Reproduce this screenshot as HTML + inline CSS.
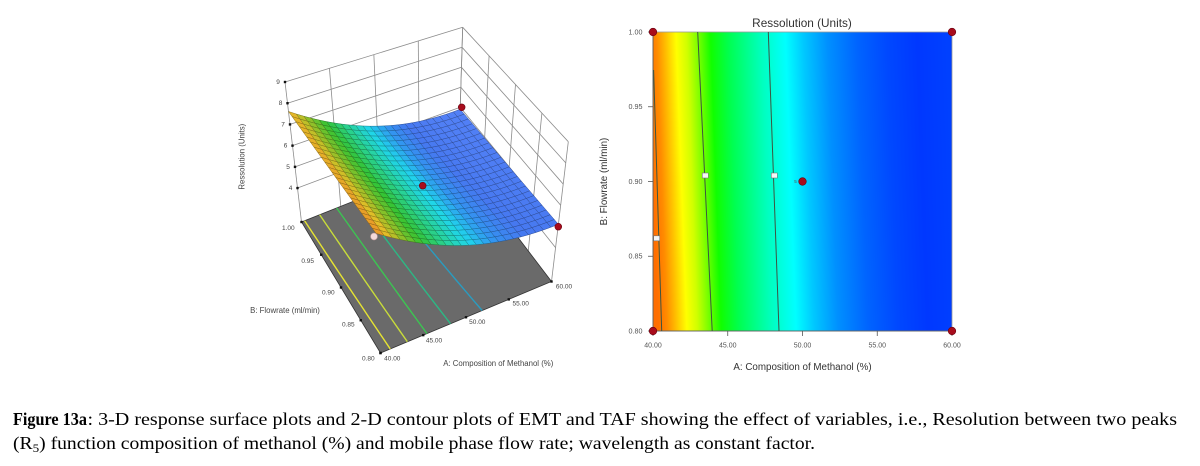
<!DOCTYPE html>
<html><head><meta charset="utf-8">
<style>
html,body{margin:0;padding:0;background:#fff;}
svg{display:block;}
</style></head>
<body>
<svg id="s" width="1200" height="466" viewBox="0 0 1200 466" xmlns="http://www.w3.org/2000/svg" font-family="'Liberation Sans', Arial, sans-serif">
<defs>
<linearGradient id="cg" gradientUnits="userSpaceOnUse" x1="653" y1="181.5" x2="952" y2="170.5">
 <stop offset="0" stop-color="#ff6e00"/>
 <stop offset="0.03" stop-color="#ff8c00"/>
 <stop offset="0.06" stop-color="#ffc000"/>
 <stop offset="0.095" stop-color="#ffff00"/>
 <stop offset="0.13" stop-color="#d0ff00"/>
 <stop offset="0.165" stop-color="#80ff00"/>
 <stop offset="0.21" stop-color="#10ff00"/>
 <stop offset="0.27" stop-color="#00ff50"/>
 <stop offset="0.38" stop-color="#00ffc0"/>
 <stop offset="0.46" stop-color="#00ffff"/>
 <stop offset="0.52" stop-color="#00c8ff"/>
 <stop offset="0.60" stop-color="#0090ff"/>
 <stop offset="0.70" stop-color="#0064ff"/>
 <stop offset="0.80" stop-color="#0048ff"/>
 <stop offset="0.90" stop-color="#0038ff"/>
 <stop offset="1" stop-color="#0040ff"/>
</linearGradient>
</defs>
<rect width="1200" height="466" fill="#fff"/>

<!-- 3D plot (generated geometry) -->
<g id="g3d"></g>

<!-- 3D labels -->
<g fill="#444" font-size="6.5" text-anchor="middle">
 <text x="278" y="84">9</text>
 <text x="280.5" y="105.2">8</text>
 <text x="283" y="126.4">7</text>
 <text x="285.5" y="147.7">6</text>
 <text x="288" y="168.8">5</text>
 <text x="290.5" y="190.1">4</text>
 <text x="288.3" y="230">1.00</text>
 <text x="307.7" y="263">0.95</text>
 <text x="328.3" y="294.6">0.90</text>
 <text x="348.3" y="326.6">0.85</text>
 <text x="368.3" y="360.6">0.80</text>
 <text x="392.3" y="360.6">40.00</text>
 <text x="434" y="342.3">45.00</text>
 <text x="477.3" y="324">50.00</text>
 <text x="520.7" y="305.6">55.00</text>
 <text x="564" y="288.3">60.00</text>
</g>
<g fill="#444" font-size="7.8" text-anchor="middle">
 <text x="285" y="312.8">B: Flowrate (ml/min)</text>
 <text x="498.3" y="366">A: Composition of Methanol (%)</text>
 <text transform="translate(244.5,156.7) rotate(-90)" x="0" y="0">Ressolution (Units)</text>
</g>

<!-- 2D contour plot -->
<rect x="653" y="32" width="299" height="299" fill="url(#cg)"/>
<rect x="653" y="32" width="299" height="299" fill="none" stroke="#9a9a9a" stroke-width="0.8"/>
<line x1="653" y1="32" x2="653" y2="331" stroke="#555" stroke-width="0.8"/>
<line x1="653" y1="331" x2="952" y2="331" stroke="#555" stroke-width="0.8"/>
<g stroke="#3d5540" stroke-width="1" fill="none">
 <line x1="653.6" y1="70" x2="661.7" y2="331"/>
 <line x1="697.7" y1="32" x2="712.2" y2="331"/>
 <line x1="768.3" y1="32" x2="779" y2="331"/>
</g>
<g fill="#f6f6f6" stroke="#777" stroke-width="0.6">
 <rect x="653.7" y="235.8" width="6" height="5"/>
 <rect x="702.3" y="173" width="6" height="5"/>
 <rect x="771.3" y="173" width="6" height="5"/>
</g>
<g stroke="#555" stroke-width="0.8">
 <line x1="648" y1="32" x2="653" y2="32"/>
 <line x1="648" y1="106.75" x2="653" y2="106.75"/>
 <line x1="648" y1="181.5" x2="653" y2="181.5"/>
 <line x1="648" y1="256.25" x2="653" y2="256.25"/>
 <line x1="648" y1="331" x2="653" y2="331"/>
 <line x1="653" y1="331" x2="653" y2="336"/>
 <line x1="727.75" y1="331" x2="727.75" y2="336"/>
 <line x1="802.5" y1="331" x2="802.5" y2="336"/>
 <line x1="877.25" y1="331" x2="877.25" y2="336"/>
 <line x1="952" y1="331" x2="952" y2="336"/>
</g>
<g fill="#555" font-size="7.2" text-anchor="end">
 <text x="642.5" y="34.5">1.00</text>
 <text x="642.5" y="109.2">0.95</text>
 <text x="642.5" y="184">0.90</text>
 <text x="642.5" y="258.7">0.85</text>
 <text x="642.5" y="333.5">0.80</text>
</g>
<g fill="#555" font-size="7" text-anchor="middle">
 <text x="653" y="347.5">40.00</text>
 <text x="727.75" y="347.5">45.00</text>
 <text x="802.5" y="347.5">50.00</text>
 <text x="877.25" y="347.5">55.00</text>
 <text x="952" y="347.5">60.00</text>
</g>
<g fill="#a80c1c" stroke="#6a0010" stroke-width="0.6">
 <circle cx="653" cy="32" r="3.8"/>
 <circle cx="952" cy="32" r="3.8"/>
 <circle cx="653" cy="331" r="3.8"/>
 <circle cx="952" cy="331" r="3.8"/>
 <circle cx="802.5" cy="181.5" r="3.8"/>
</g>
<text x="795.5" y="183" fill="#555" font-size="4.5" text-anchor="middle">5</text>
<text x="802" y="27" fill="#333" font-size="11.8" text-anchor="middle">Ressolution (Units)</text>
<text x="802.5" y="370" fill="#333" font-size="9.8" text-anchor="middle">A: Composition of Methanol (%)</text>
<text transform="translate(607,181.5) rotate(-90)" x="0" y="0" fill="#333" font-size="9.8" text-anchor="middle">B: Flowrate (ml/min)</text>

<!-- caption -->
<g font-family="'Liberation Serif', 'Times New Roman', serif" fill="#000" font-size="18">
 <text x="13" y="425" font-weight="bold" textLength="74" lengthAdjust="spacingAndGlyphs">Figure 13a</text>
 <text x="87.5" y="425" textLength="1089.5" lengthAdjust="spacingAndGlyphs">: 3-D response surface plots and 2-D contour plots of EMT and TAF showing the effect of variables, i.e., Resolution between two peaks</text>
 <text x="13" y="449" textLength="802" lengthAdjust="spacingAndGlyphs">(R<tspan font-size="12" dy="3">5</tspan><tspan dy="-3">) function composition of methanol (%) and mobile phase flow rate; wavelength as constant factor.</tspan></text>
</g>
</svg>
<script>
(function(){
const NS="http://www.w3.org/2000/svg";
const g=document.getElementById('g3d');
function el(tag,attrs){const e=document.createElementNS(NS,tag);for(const k in attrs)e.setAttribute(k,attrs[k]);g.appendChild(e);return e;}
const F00=[380.5,353],F10=[551.5,281.5],F01=[301.5,222],F11=[458.6,159.3];
const T00=[375,207],T10=[568.3,141.7],T01=[285,82],T11=[462.7,27.3];
const Z0=2.4,Z1=9;
function bil(p00,p10,p01,p11,a,b,i){return p00[i]*(1-a)*(1-b)+p10[i]*a*(1-b)+p01[i]*(1-a)*b+p11[i]*a*b;}
function P(a,b,z){const f=(z-Z0)/(Z1-Z0);
 const fx=bil(F00,F10,F01,F11,a,b,0),fy=bil(F00,F10,F01,F11,a,b,1);
 const tx=bil(T00,T10,T01,T11,a,b,0),ty=bil(T00,T10,T01,T11,a,b,1);
 return [fx+(tx-fx)*f,fy+(ty-fy)*f];}
function Z(a,b){const x=2*a-1,y=2*b-1;return 5.63-1.355*x+0.725*x*x-0.1*y;}
function line(p,q,st,w){el('line',{x1:p[0].toFixed(2),y1:p[1].toFixed(2),x2:q[0].toFixed(2),y2:q[1].toFixed(2),stroke:st,'stroke-width':w});}
const ws='#8c8c8c';
const ticks=[0,.25,.5,.75,1], zl=[4,5,6,7,8,9];
// back wall b=1
ticks.forEach(a=>line(P(a,1,Z0),P(a,1,Z1),ws,0.8));
zl.forEach(z=>line(P(0,1,z),P(1,1,z),ws,0.8));
// right wall a=1
ticks.forEach(b=>line(P(1,b,Z0),P(1,b,Z1),ws,0.8));
zl.forEach(z=>line(P(1,0,z),P(1,1,z),ws,0.8));
// z ticks
zl.forEach(z=>{const p=P(0,1,z);el('rect',{x:(p[0]-1.2).toFixed(2),y:(p[1]-1.2).toFixed(2),width:2.4,height:2.4,fill:'#111'});});
// floor
const fc=[P(0,0,Z0),P(1,0,Z0),P(1,1,Z0),P(0,1,Z0)];
el('polygon',{points:fc.map(p=>p[0].toFixed(2)+','+p[1].toFixed(2)).join(' '),fill:'#6a6a6a',stroke:'#333','stroke-width':0.8});
// floor ticks
ticks.forEach(t=>{let p=P(0,t,Z0);el('rect',{x:(p[0]-1.2).toFixed(2),y:(p[1]-1.2).toFixed(2),width:2.4,height:2.4,fill:'#111'});
 p=P(t,0,Z0);el('rect',{x:(p[0]-1.2).toFixed(2),y:(p[1]-1.2).toFixed(2),width:2.4,height:2.4,fill:'#111'});});
// floor contours
const lv=[[7.5,'#e6e432'],[7.0,'#c8dc3a'],[6.5,'#3cc452'],[6.0,'#2cb884'],[5.5,'#2a9cc0']];
lv.forEach(([L,c])=>{const pts=[];
 for(let k=0;k<=12;k++){const b=k/12,y=2*b-1;const C=5.63-0.1*y-L;const D=1.355*1.355-4*0.725*C;if(D<0)continue;
  const x=(1.355-Math.sqrt(D))/(2*0.725);const a=(x+1)/2;if(a<0||a>1)continue;const p=P(a,b,Z0);pts.push(p[0].toFixed(2)+','+p[1].toFixed(2));}
 el('polyline',{points:pts.join(' '),fill:'none',stroke:c,'stroke-width':1.4});});
// surface
const stops=[[4.9,[82,128,246]],[5.15,[70,120,240]],[5.4,[50,150,240]],[5.7,[32,214,236]],[6.1,[40,210,150]],[6.6,[52,196,52]],[7.1,[150,192,40]],[7.45,[226,190,40]],[7.8,[236,140,40]]];
function col(z){if(z<=stops[0][0])return stops[0][1];
 for(let i=1;i<stops.length;i++){if(z<=stops[i][0]){const t=(z-stops[i-1][0])/(stops[i][0]-stops[i-1][0]);const A=stops[i-1][1],B=stops[i][1];return [0,1,2].map(k=>A[k]+(B[k]-A[k])*t);}}
 return stops[stops.length-1][1];}
const N=24,quads=[];
for(let i=0;i<N;i++)for(let j=0;j<N;j++){
 const a0=i/N,a1=(i+1)/N,b0=j/N,b1=(j+1)/N;
 const pts=[[a0,b0],[a1,b0],[a1,b1],[a0,b1]].map(ab=>P(ab[0],ab[1],Z(ab[0],ab[1])));
 quads.push({d:(a0+a1)/2+(b0+b1)/2,pts:pts,zc:Z((a0+a1)/2,(b0+b1)/2)});}
quads.sort((p,q)=>q.d-p.d);
quads.forEach(q=>{const c=col(q.zc);const f='rgb('+c.map(v=>Math.round(v)).join(',')+')';
 const s='rgb('+c.map(v=>Math.round(v*0.62)).join(',')+')';
 el('polygon',{points:q.pts.map(p=>p[0].toFixed(2)+','+p[1].toFixed(2)).join(' '),fill:f,stroke:s,'stroke-width':0.5,'stroke-linejoin':'round'});});
// design points
el('circle',{cx:374,cy:236.5,r:3.4,fill:'#f4dada',stroke:'#c9a0a0','stroke-width':0.6});
[[461.7,107.3],[558.3,226.7],[422.7,185.7]].forEach(p=>el('circle',{cx:p[0],cy:p[1],r:3.4,fill:'#a80c1c',stroke:'#6a0010','stroke-width':0.6}));
})();
</script>
</body></html>
